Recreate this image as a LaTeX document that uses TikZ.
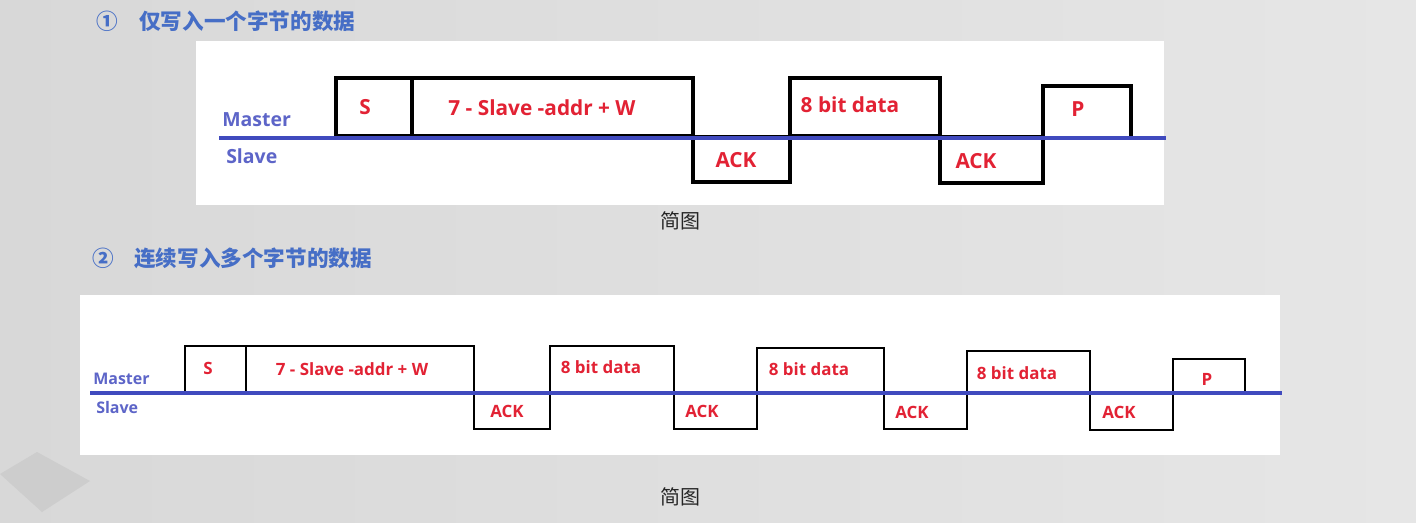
\documentclass[tikz,border=0pt]{standalone}
\usepackage{fontspec}
\setmainfont{Open Sans}
\newfontfamily\cjk{Noto Sans CJK SC}
\usepackage{tikz}
\definecolor{bgA}{RGB}{216,216,216}
\definecolor{bgB}{RGB}{230,230,230}
\definecolor{bgC}{RGB}{205,205,205}
\definecolor{ttlblue}{RGB}{70,110,198}
\definecolor{sigblue}{RGB}{64,74,190}
\definecolor{lblred}{RGB}{226,34,52}
\tikzset{
  every picture/.style={line join=miter, line cap=rect},
  wave/.style={draw=black, line width=2.6pt},
  wavesm/.style={draw=black, line width=2.2pt},
  bus/.style={draw=sigblue, line width=2.4pt},
  ttl/.style={text=ttlblue, font=\cjk\bfseries\fontsize{16.2}{17}\selectfont, anchor=west, inner sep=0pt},
  captxt/.style={text=black!85, font=\cjk\fontsize{15}{16}\selectfont, inner sep=0pt},
  side/.style={text=sigblue!85!white, font=\bfseries\fontsize{14.6}{15}\selectfont, anchor=west, inner sep=0pt},
  sidesm/.style={text=sigblue!85!white, font=\bfseries\fontsize{12}{12}\selectfont, anchor=west, inner sep=0pt},
  lbl/.style={text=lblred, font=\bfseries\fontsize{15.6}{16}\selectfont, inner sep=0pt},
  lblsm/.style={text=lblred, font=\bfseries\fontsize{12.7}{13}\selectfont, inner sep=0pt},
}

\begin{document}
\begin{tikzpicture}[x=0.75pt,y=-0.75pt]
% background and panels
\shade[left color=bgA,right color=bgB] (0,0) rectangle (1416,522);
\fill[bgC] (0,474)--(37,452)--(90,481)--(42,512)--cycle;
\fill[white] (196,41) rectangle (1164,205);
\fill[white] (80,295) rectangle (1280,455);

% titles and captions
\node[ttl] (n1) at (96,21) {①};
\node[ttl] (t1) at (139,21) {仅写入一个字节的数据};
\node[ttl] (n2) at (92,258) {②};
\node[ttl] (t2) at (134,258) {连续写入多个字节的数据};
\node[captxt] (c1) at (680,221) {简图};
\node[captxt] (c2) at (680,497) {简图};

% one byte
\draw[wave] (336,78) rectangle (412,136);
\draw[wave] (412,78) rectangle (693,136);
\draw[wave] (693,137) rectangle (790,182);
\draw[wave] (790,78) rectangle (940,136);
\draw[wave] (940,137) rectangle (1043,183);
\draw[wave] (1043,86) rectangle (1131,138);
\draw[bus] (221,138) -- (1164,138);
\node[side] (m1) at (222,120) {Master};
\node[side] (s1) at (226,156) {Slave};
\node[lbl] (a1) at (365,107) {S};
\node[lbl] (a2) at (542,108) {7 - Slave -addr + W};
\node[lbl] (a3) at (736,160) {ACK};
\node[lbl] (a4) at (850,105) {8 bit data};
\node[lbl] (a5) at (976,161) {ACK};
\node[lbl] (a6) at (1078,109) {P};

% several bytes
\draw[wavesm] (185,346) rectangle (246,392);
\draw[wavesm] (246,346) rectangle (474,392);
\draw[wavesm] (474,393) rectangle (550,429);
\draw[wavesm] (550,346) rectangle (674,392);
\draw[wavesm] (674,393) rectangle (757,429);
\draw[wavesm] (757,348) rectangle (884,392);
\draw[wavesm] (884,393) rectangle (967,429);
\draw[wavesm] (967,351) rectangle (1090,392);
\draw[wavesm] (1090,393) rectangle (1173,430);
\draw[wavesm] (1173,359) rectangle (1245,393);
\draw[bus] (92,393) -- (1280,393);
\node[sidesm] (m2) at (93,379) {Master};
\node[sidesm] (s2) at (96,407) {Slave};
\node[lblsm] (b1) at (208,368) {S};
\node[lblsm] (b2) at (352,369) {7 - Slave -addr + W};
\node[lblsm] (b3) at (507,411) {ACK};
\node[lblsm] (b4) at (601,367) {8 bit data};
\node[lblsm] (b5) at (702,411) {ACK};
\node[lblsm] (b6) at (809,369) {8 bit data};
\node[lblsm] (b7) at (912,412) {ACK};
\node[lblsm] (b8) at (1017,373) {8 bit data};
\node[lblsm] (b9) at (1119,412) {ACK};
\node[lblsm] (b10) at (1207,379) {P};
\end{tikzpicture}
\end{document}
